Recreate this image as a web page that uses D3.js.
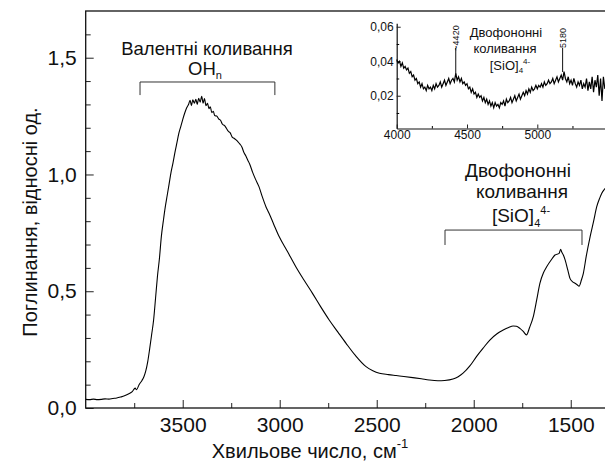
<!DOCTYPE html>
<html>
<head>
<meta charset="utf-8">
<script src="https://cdn.jsdelivr.net/npm/d3@7"></script>
<style>
body { margin: 0; background: #fff; }
svg { display: block; font-family: "Liberation Sans", Arial, sans-serif; }
</style>
</head>
<body>
<div id="chart"></div>
<script>
// main spectrum (cm-1 -> absorbance)
var waveNumbers = [4000, 3980, 3960, 3940, 3920, 3900, 3880, 3860, 3840, 3820,
    3800, 3780, 3760, 3745, 3738, 3725, 3710, 3700, 3690, 3680,
    3670, 3660, 3650, 3640, 3630, 3620, 3610, 3600, 3590, 3580,
    3570, 3560, 3550, 3540, 3530, 3520, 3510, 3500, 3490, 3480,
    3470, 3462, 3455, 3448, 3440, 3432, 3425, 3418, 3410, 3402,
    3395, 3388, 3380, 3372, 3365, 3358, 3350, 3342, 3335, 3325,
    3315, 3305, 3295, 3285, 3275, 3265, 3255, 3245, 3235, 3225,
    3215, 3205, 3195, 3185, 3175, 3165, 3155, 3140, 3125, 3107,
    3090, 3070, 3055, 3030, 3003, 2960, 2917, 2875, 2831, 2790,
    2745, 2700, 2658, 2610, 2555, 2520, 2486, 2440, 2400, 2360,
    2314, 2270, 2230, 2185, 2150, 2107, 2080, 2055, 2020, 1986,
    1950, 1917, 1880, 1848, 1820, 1797, 1780, 1762, 1745, 1728,
    1712, 1693, 1675, 1659, 1640, 1624, 1600, 1581, 1560, 1552,
    1547, 1538, 1529, 1515, 1504, 1490, 1478, 1467, 1457, 1445,
    1435, 1420, 1400, 1382, 1366, 1350, 1340, 1323, 1310];
var absorbance = [0.037, 0.036, 0.038, 0.036, 0.037, 0.039, 0.038, 0.041, 0.043, 0.047,
    0.052, 0.060, 0.070, 0.085, 0.078, 0.100, 0.118, 0.134, 0.160, 0.200,
    0.255, 0.315, 0.377, 0.470, 0.565, 0.640, 0.735, 0.800, 0.860, 0.910,
    0.960, 1.010, 1.050, 1.095, 1.135, 1.176, 1.205, 1.235, 1.262, 1.285,
    1.300, 1.318, 1.295, 1.320, 1.305, 1.322, 1.300, 1.326, 1.310, 1.335,
    1.305, 1.325, 1.295, 1.305, 1.282, 1.290, 1.265, 1.270, 1.252, 1.250,
    1.238, 1.232, 1.215, 1.210, 1.198, 1.185, 1.178, 1.160, 1.155, 1.148,
    1.140, 1.130, 1.118, 1.095, 1.080, 1.062, 1.045, 1.010, 0.980, 0.948,
    0.905, 0.860, 0.834, 0.785, 0.734, 0.670, 0.605, 0.548, 0.491, 0.435,
    0.377, 0.325, 0.277, 0.225, 0.177, 0.160, 0.149, 0.143, 0.139, 0.135,
    0.130, 0.125, 0.120, 0.117, 0.118, 0.124, 0.134, 0.149, 0.180, 0.220,
    0.258, 0.291, 0.318, 0.334, 0.345, 0.351, 0.350, 0.341, 0.328, 0.313,
    0.345, 0.391, 0.465, 0.534, 0.580, 0.605, 0.635, 0.655, 0.662, 0.680,
    0.669, 0.655, 0.634, 0.590, 0.555, 0.540, 0.534, 0.528, 0.522, 0.548,
    0.577, 0.650, 0.734, 0.800, 0.862, 0.900, 0.920, 0.940, 0.955];

var xTicks = [3500, 3000, 2500, 2000, 1500];
var xMinorTicks = [3750, 3250, 2750, 2250, 1750];
var yTicks = [0, 0.5, 1.0, 1.5];
var yMinorTicks = [0.1, 0.2, 0.3, 0.4, 0.6, 0.7, 0.8, 0.9, 1.1, 1.2, 1.3, 1.4, 1.6];

// bracket annotations (cm-1 from, cm-1 to, level, foot level)
var ohBand = [3720, 3025, 1.396, 1.34];
var sioBand = [2148, 1442, 0.762, 0.698];

// inset: overtone region, one value every 10 cm-1 from 4000
var insetStart = 4000, insetStep = 10;
var insetValues = [
    0.041, 0.039, 0.040, 0.037, 0.039, 0.036, 0.037, 0.035, 0.036, 0.033,
    0.034, 0.031, 0.032, 0.029, 0.030, 0.027, 0.028, 0.025, 0.027, 0.024,
    0.025, 0.023, 0.026, 0.024, 0.025, 0.023, 0.026, 0.024, 0.027, 0.025,
    0.026, 0.028, 0.025, 0.027, 0.029, 0.026, 0.028, 0.030, 0.027, 0.029,
    0.030, 0.028, 0.033, 0.029, 0.031, 0.028, 0.030, 0.027, 0.028, 0.026,
    0.027, 0.024, 0.025, 0.022, 0.024, 0.021, 0.022, 0.019, 0.021, 0.019,
    0.020, 0.017, 0.019, 0.016, 0.018, 0.015, 0.017, 0.014, 0.016, 0.013,
    0.016, 0.014, 0.015, 0.013, 0.016, 0.015, 0.017, 0.014, 0.018, 0.016,
    0.017, 0.019, 0.016, 0.018, 0.020, 0.017, 0.019, 0.021, 0.018, 0.020,
    0.022, 0.020, 0.023, 0.021, 0.024, 0.022, 0.025, 0.023, 0.024, 0.026,
    0.024, 0.026, 0.025, 0.027, 0.025, 0.028, 0.026, 0.027, 0.029, 0.027,
    0.028, 0.030, 0.027, 0.029, 0.031, 0.028, 0.030, 0.032, 0.029, 0.034,
    0.030, 0.028, 0.031, 0.027, 0.029, 0.026, 0.030, 0.027, 0.025, 0.028,
    0.026, 0.029, 0.024, 0.027, 0.025, 0.030, 0.023, 0.028, 0.024, 0.031,
    0.022, 0.029, 0.025, 0.032, 0.020, 0.030, 0.017, 0.031, 0.024];
var insetXTicks = [4000, 4500, 5000];
var insetXMinor = [4250, 4750, 5250];
var insetYTicks = [0.02, 0.04, 0.06];
var insetYMinor = [0.01, 0.03, 0.05];
var insetMarks = [["~4420", 4420, 75], ["5180", 5180, 72]];

var width = 605, height = 462;
var plotLeft = 85.7, plotTop = 11, plotBottom = 408, plotRight = 607.6;

var svg = d3.select("#chart").append("svg")
    .attr("width", width)
    .attr("height", height);

var x = d3.scaleLinear().domain([4000, 1310]).range([plotLeft, plotRight]);
var y = d3.scaleLinear().domain([0, 1.7]).range([plotBottom, plotTop]);
var comma = function(f) {
    return function(d) { return d3.format(f)(d).replace(".", ","); };
};

svg.append("defs").append("clipPath").attr("id", "plotclip")
    .append("rect")
    .attr("x", plotLeft).attr("y", plotTop)
    .attr("width", plotRight - plotLeft).attr("height", plotBottom - plotTop);

// axes
var gx = svg.append("g").attr("transform", "translate(0," + plotBottom + ")")
    .call(d3.axisBottom(x).tickValues(xTicks).tickSize(-8).tickSizeOuter(0).tickPadding(9)
        .tickFormat(d3.format("d")));
svg.append("g").attr("transform", "translate(0," + plotBottom + ")")
    .call(d3.axisBottom(x).tickValues(xMinorTicks).tickSize(-5).tickFormat(""));
var gy = svg.append("g").attr("transform", "translate(" + plotLeft + ",0)")
    .call(d3.axisLeft(y).tickValues(yTicks).tickSize(-8).tickSizeOuter(0).tickPadding(9)
        .tickFormat(comma(".1f")));
svg.append("g").attr("transform", "translate(" + plotLeft + ",0)")
    .call(d3.axisLeft(y).tickValues(yMinorTicks).tickSize(-5).tickFormat(""));
svg.selectAll(".domain").remove();
svg.selectAll(".tick line").attr("stroke", "#222").attr("stroke-width", 1);
gx.selectAll("text").attr("font-size", 21).attr("fill", "#111");
gy.selectAll("text").attr("font-size", 21).attr("fill", "#111");

svg.append("rect")
    .attr("x", plotLeft).attr("y", plotTop)
    .attr("width", plotRight - plotLeft + 5).attr("height", plotBottom - plotTop)
    .attr("fill", "none").attr("stroke", "#111").attr("stroke-width", 1.3);

// spectrum
var line = d3.line()
    .x(function(d, i) { return x(waveNumbers[i]); })
    .y(function(d) { return y(d); })
    .curve(d3.curveMonotoneX);
svg.append("path")
    .datum(absorbance)
    .attr("clip-path", "url(#plotclip)")
    .attr("d", line)
    .attr("fill", "none")
    .attr("stroke", "#000")
    .attr("stroke-width", 1.1);

// brackets
function bracket(b) {
    var p = d3.path();
    p.moveTo(x(b[0]), y(b[3]));
    p.lineTo(x(b[0]), y(b[2]));
    p.lineTo(x(b[1]), y(b[2]));
    p.lineTo(x(b[1]), y(b[3]));
    svg.append("path").attr("d", p.toString())
        .attr("fill", "none").attr("stroke", "#333").attr("stroke-width", 1);
}
bracket(ohBand);
bracket(sioBand);

svg.append("text").attr("x", 207).attr("y", 55).attr("text-anchor", "middle")
    .attr("font-size", 18.5).attr("fill", "#111").text("Валентні коливання");
var oh = svg.append("text").attr("x", 205).attr("y", 75).attr("text-anchor", "middle")
    .attr("font-size", 18.5).attr("fill", "#111");
oh.append("tspan").text("OH");
oh.append("tspan").attr("font-size", 11).attr("dy", 4).text("n");

svg.append("text").attr("x", 518).attr("y", 177).attr("text-anchor", "middle")
    .attr("font-size", 19).attr("fill", "#111").text("Двофононні");
svg.append("text").attr("x", 522).attr("y", 198).attr("text-anchor", "middle")
    .attr("font-size", 19).attr("fill", "#111").text("коливання");
var sio = svg.append("text").attr("x", 521).attr("y", 222).attr("text-anchor", "middle")
    .attr("font-size", 19).attr("fill", "#111");
sio.append("tspan").text("[SiO]");
sio.append("tspan").attr("font-size", 11).attr("dy", 5).text("4");
sio.append("tspan").attr("font-size", 11).attr("dy", -13).text("4-");

// axis titles
var xt = svg.append("text").attr("x", 310).attr("y", 458).attr("text-anchor", "middle")
    .attr("font-size", 20).attr("fill", "#111");
xt.append("tspan").text("Хвильове число, см");
xt.append("tspan").attr("font-size", 13).attr("dy", -10).text("-1");

svg.append("text")
    .attr("transform", "translate(37,222) rotate(-90)")
    .attr("text-anchor", "middle")
    .attr("font-size", 20).attr("fill", "#111")
    .text("Поглинання, відносні од.");

// inset
var xi = d3.scaleLinear().domain([4000, 5480]).range([396.7, 604.8]);
var yi = d3.scaleLinear().domain([0.001, 0.062]).range([128.5, 23.3]);

var gxi = svg.append("g").attr("transform", "translate(0,128.5)")
    .call(d3.axisBottom(xi).tickValues(insetXTicks).tickSize(-4).tickSizeOuter(0).tickPadding(2)
        .tickFormat(d3.format("d")));
svg.append("g").attr("transform", "translate(0,128.5)")
    .call(d3.axisBottom(xi).tickValues(insetXMinor).tickSize(-2.5).tickSizeOuter(0).tickFormat(""))
    .select(".domain").remove();
var gyi = svg.append("g").attr("transform", "translate(396.7,0)")
    .call(d3.axisLeft(yi).tickValues(insetYTicks).tickSize(-4).tickSizeOuter(0).tickPadding(3)
        .tickFormat(comma(".2f")));
svg.append("g").attr("transform", "translate(396.7,0)")
    .call(d3.axisLeft(yi).tickValues(insetYMinor).tickSize(-2.5).tickSizeOuter(0).tickFormat(""))
    .select(".domain").remove();
[gxi, gyi].forEach(function(g) {
    g.selectAll("text").attr("font-size", 12).attr("fill", "#111");
    g.selectAll("line").attr("stroke", "#222");
    g.select(".domain").attr("stroke", "#111").attr("stroke-width", 1.2);
});

var insetLine = d3.line()
    .x(function(d, i) { return xi(insetStart + i * insetStep); })
    .y(function(d) { return yi(d); });
svg.append("path")
    .datum(insetValues)
    .attr("d", insetLine)
    .attr("fill", "none")
    .attr("stroke", "#000")
    .attr("stroke-width", 1.2);

insetMarks.forEach(function(m) {
    svg.append("line")
        .attr("x1", xi(m[1])).attr("x2", xi(m[1]))
        .attr("y1", 48).attr("y2", m[2])
        .attr("stroke", "#111").attr("stroke-width", 1);
    svg.append("text")
        .attr("transform", "translate(" + (xi(m[1]) + 3.5) + ",38) rotate(-90)")
        .attr("text-anchor", "middle")
        .attr("font-size", 9).attr("fill", "#111")
        .text(m[0]);
});

svg.append("text").attr("x", 506).attr("y", 37).attr("text-anchor", "middle")
    .attr("font-size", 13).attr("fill", "#111").text("Двофононні");
svg.append("text").attr("x", 505).attr("y", 53).attr("text-anchor", "middle")
    .attr("font-size", 13).attr("fill", "#111").text("коливання");
var sioi = svg.append("text").attr("x", 510).attr("y", 70).attr("text-anchor", "middle")
    .attr("font-size", 13).attr("fill", "#111");
sioi.append("tspan").text("[SiO]");
sioi.append("tspan").attr("font-size", 8).attr("dy", 3).text("4");
sioi.append("tspan").attr("font-size", 8).attr("dy", -9).text("4-");
</script>
</body>
</html>
